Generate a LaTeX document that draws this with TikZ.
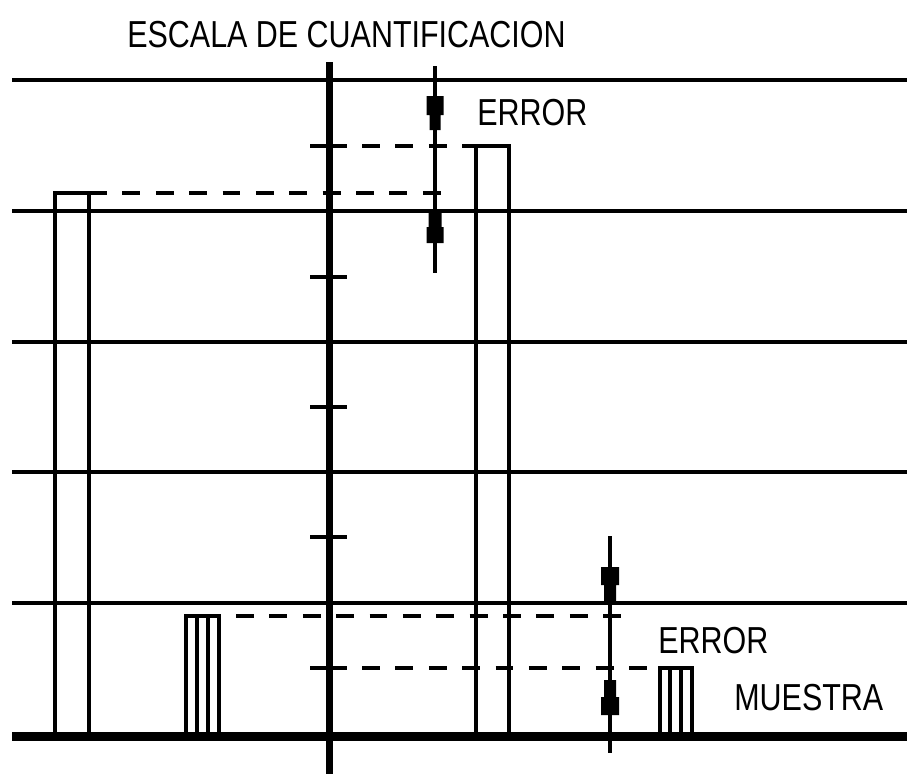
\documentclass[tikz,border=0pt]{standalone}
\usepackage{fontspec}
\newfontfamily\rotulo{Liberation Sans}[FakeStretch=0.81]
\usetikzlibrary{positioning}

\begin{document}
\begin{tikzpicture}[
  x=0.02cm, y=-0.02cm,
  linea/.style={line width=2.3pt},
  eje/.style={line width=4pt},
  base/.style={line width=5pt},
  trazos/.style={line width=2.3pt,dash pattern=on 10.2pt off 8.8pt},
  barra/.style={line width=2.3pt},
  lbl/.style={font=\rotulo\fontsize{21.4}{24}\selectfont,inner sep=0pt,anchor=base west}
    ]
    \useasboundingbox (0,0) rectangle (907,775);
    \foreach \y in {80,211,342,472,603}
      \draw[linea] (12,\y) -- (907,\y);
    \draw[base] (12,736.5) -- (907,736.5);
    % barras
    \draw[barra] (55,736) |- (89,193) -- (89,736);
    \draw[barra] (476,736) |- (509,146) -- (509,736);
    \draw[barra] (186,736) |- (219,616) -- (219,736) (197,616) -- (197,736) (208,616) -- (208,736);
    \draw[barra] (660,736) |- (692,668) -- (692,736) (670,668) -- (670,736) (681,668) -- (681,736);
    % escala
    \draw[eje] (329.5,62) -- (329.5,774);
    \foreach \y in {146,277,407,537,668}
      \draw[linea] (310,\y) -- (347,\y);
    \draw[trazos] (362,146) -- (476,146);
    \draw[trazos] (89,193) -- (443,193);
    \draw[trazos] (236,616) -- (623,616);
    \draw[trazos] (362,668) -- (658,668);
    % error
    \coordinate (ea) at (435,66);
    \coordinate (eb) at (435,273);
    \coordinate (ec) at (610,536);
    \coordinate (ed) at (610,753);
    \draw[linea] (ea) -- (eb);
    \draw[linea] (ec) -- (ed);
    \fill[shift={(435,96)}] (-8.5,0) rectangle (8.5,19) (-5.5,19) rectangle (5.5,34);
    \fill[shift={(435,213)}] (-6.5,0) rectangle (6.5,14) (-8.5,14) rectangle (8.5,30);
    \fill[shift={(610,567)}] (-9,0) rectangle (9,18) (-6,18) rectangle (6,36);
    \fill[shift={(610,680)}] (-6,0) rectangle (6,17) (-9,17) rectangle (9,35);
    \node[lbl] (titulo) at (127,47) {ESCALA DE CUANTIFICACION};
    \node[lbl] (err1) at (477,125) {ERROR};
    \node[lbl] (err2) at (658,653) {ERROR};
    \node[lbl] (muestra) at (734,710) {MUESTRA};
\end{tikzpicture}
\end{document}
